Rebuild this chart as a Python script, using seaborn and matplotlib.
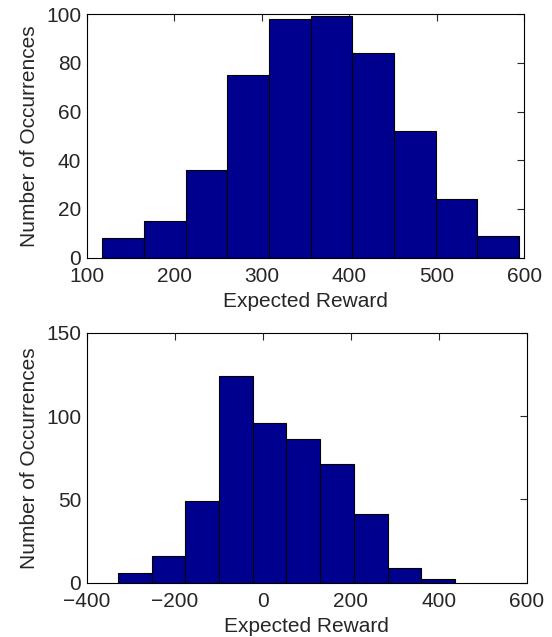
import numpy as np
import pandas as pd
import matplotlib
matplotlib.use('Agg')
import matplotlib.pyplot as plt
import seaborn as sns

# histogram 1 (counts per bin, 10 bins)
top_counts = [8, 15, 36, 75, 98, 99, 84, 52, 24, 9]
top_range = (117.7, 594.0)
# histogram 2
bot_counts = [6, 16, 49, 124, 96, 86, 71, 41, 9, 2]
bot_range = (-329.0, 437.0)

top_xticks = [100, 200, 300, 400, 500, 600]
top_yticks = [0, 20, 40, 60, 80, 100]
bot_xticks = [-400, -200, 0, 200, 400, 600]
bot_yticks = [0, 50, 100, 150]

sns.set_style('white')
plt.rcParams['font.family'] = ['Liberation Sans', 'DejaVu Sans']
plt.rcParams['font.size'] = 15

bar_color = '#00008F'

fig = plt.figure(figsize=(5.52, 6.37), dpi=100)
ax1 = fig.add_axes([0.1571, 0.5954, 0.7928, 0.3826])
ax2 = fig.add_axes([0.1571, 0.0852, 0.797, 0.3925])


def draw_hist(ax, counts, rng, xticks, yticks):
    edges = np.linspace(rng[0], rng[1], len(counts) + 1)
    df = pd.DataFrame({'reward': (edges[:-1] + edges[1:]) / 2,
                       'count': counts})
    sns.histplot(data=df, x='reward', weights='count', bins=list(edges),
                 ax=ax, color=bar_color, alpha=1, edgecolor='black',
                 linewidth=0.8)
    ax.set_xlim(xticks[0], xticks[-1])
    ax.set_ylim(yticks[0], yticks[-1])
    ax.set_xticks(xticks)
    ax.set_yticks(yticks)
    ax.set_xlabel('Expected Reward', fontsize=15, labelpad=4.5)
    ax.set_ylabel('Number of Occurrences', fontsize=15, labelpad=5)
    ax.tick_params(direction='in', top=True, right=True, length=5,
                   width=0.8, labelsize=15)
    ax.tick_params(axis='x', pad=6.5)
    ax.tick_params(axis='y', pad=4)
    for s in ax.spines.values():
        s.set_linewidth(0.8)
        s.set_color('black')


draw_hist(ax1, top_counts, top_range, top_xticks, top_yticks)
draw_hist(ax2, bot_counts, bot_range, bot_xticks, bot_yticks)

fig.savefig('out.png', dpi=100)
